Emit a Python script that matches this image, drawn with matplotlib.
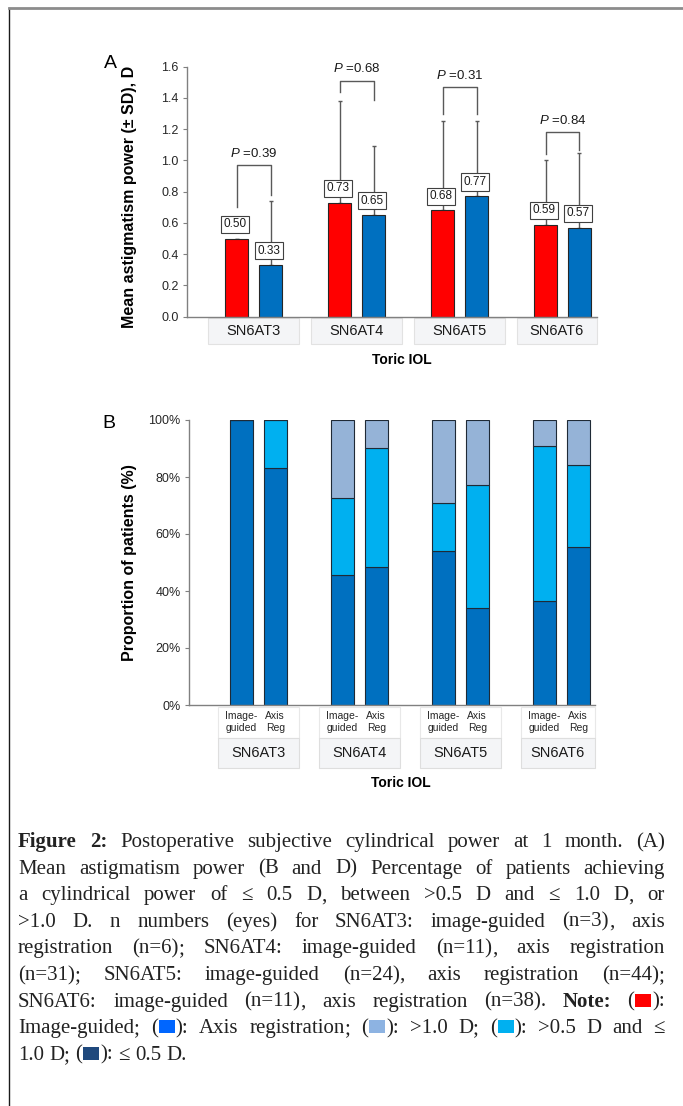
import re
import numpy as np
import matplotlib
matplotlib.use('Agg')
import matplotlib.pyplot as plt
import matplotlib.transforms as mtrans
from matplotlib.patches import Rectangle
from matplotlib.lines import Line2D

plt.rcParams['font.family'] = ['Liberation Sans', 'DejaVu Sans']
plt.rcParams['mathtext.fontset'] = 'custom'
plt.rcParams['mathtext.it'] = 'Liberation Sans:italic'
plt.rcParams['mathtext.rm'] = 'Liberation Sans'

# ---- data -------------------------------------------------------------
lenses = ['SN6AT3', 'SN6AT4', 'SN6AT5', 'SN6AT6']
groups = ['Image-\nguided', 'Axis\nReg']

# panel A: mean astigmatism power (D) and upper SD
mean_ig = [0.50, 0.73, 0.68, 0.59]
mean_ar = [0.33, 0.65, 0.77, 0.57]
sd_ig = [0.0, 0.65, 0.57, 0.41]
sd_ar = [0.41, 0.44, 0.48, 0.48]
p_values = ['0.39', '0.68', '0.31', '0.84']
# significance brackets: left leg bottom, right leg bottom, top
brk_left = [0.70, 1.44, 1.30, 1.04]
brk_right = [0.78, 1.39, 1.30, 1.07]
brk_top = [0.97, 1.51, 1.47, 1.18]

# panel B: proportion of patients (%)
le05_ig = [100.0, 45.5, 54.2, 36.4]
mid_ig = [0.0, 27.3, 16.7, 54.5]
gt10_ig = [0.0, 27.3, 29.1, 9.1]
le05_ar = [83.3, 48.4, 34.1, 55.3]
mid_ar = [16.7, 41.9, 43.2, 28.9]
gt10_ar = [0.0, 9.7, 22.7, 15.8]

caption = [
    "*Figure 2:* Postoperative subjective cylindrical power at 1 month. (A)",
    "Mean astigmatism power (B and D) Percentage of patients achieving",
    "a cylindrical power of \u2264 0.5 D, between >0.5 D and \u2264 1.0 D, or",
    ">1.0 D. n numbers (eyes) for SN6AT3: image-guided (n=3), axis",
    "registration (n=6); SN6AT4: image-guided (n=11), axis registration",
    "(n=31); SN6AT5: image-guided (n=24), axis registration (n=44);",
    "SN6AT6: image-guided (n=11), axis registration (n=38). *Note:* ({red}):",
    "Image-guided; ({blue}): Axis registration; ({light}): >1.0 D; ({mid}): >0.5 D and \u2264",
    "1.0 D; ({navy}): \u2264 0.5 D.",
]
swatch = {'red': '#FF0000', 'blue': '#0066FF', 'light': '#8DB3E2',
          'mid': '#00B0F0', 'navy': '#1F497D'}

W, H = 683, 1106
fig = plt.figure(figsize=(W / 100, H / 100), dpi=100)
fig.patch.set_facecolor('white')


def px_axes(l, t, r, b):
    return fig.add_axes([l / W, 1 - b / H, (r - l) / W, (b - t) / H])


def style_axes(ax):
    for s in ['top', 'right']:
        ax.spines[s].set_visible(False)
    for s in ['left', 'bottom']:
        ax.spines[s].set_color('#808080')
        ax.spines[s].set_linewidth(1)
    ax.tick_params(axis='y', length=3, color='#808080', labelsize=9,
                   labelcolor='#262626', pad=3)
    ax.tick_params(axis='x', length=0, labelbottom=False)


x = np.arange(len(lenses))

# ---- panel A ------------------------------------------------------------
axA = px_axes(187, 66.7, 597, 316.7)
style_axes(axA)
wA, offA = 0.223, 0.165
axA.set_xlim(-0.646, 3.335)
axA.set_ylim(0, 1.6)
axA.set_yticks(np.arange(0, 1.61, 0.2))
axA.set_yticklabels([f'{v:.1f}' for v in np.arange(0, 1.61, 0.2)])

axA.bar(x - offA, mean_ig, wA, color='#FF0000', edgecolor='#262626', lw=0.8, zorder=2)
axA.bar(x + offA, mean_ar, wA, color='#0070C0', edgecolor='#262626', lw=0.8, zorder=2)
axA.errorbar(x - offA, mean_ig, yerr=[np.zeros(4), sd_ig], fmt='none',
             ecolor='#595959', elinewidth=1, capsize=1.5, zorder=1)
axA.errorbar(x + offA, mean_ar, yerr=[np.zeros(4), sd_ar], fmt='none',
             ecolor='#595959', elinewidth=1, capsize=1.5, zorder=1)

for xs, vals in [(x - offA, mean_ig), (x + offA, mean_ar)]:
    for xi, v in zip(xs, vals):
        axA.annotate(f'{v:.2f}', (xi, v), xytext=(-1, 6), textcoords='offset points',
                     ha='center', va='bottom', fontsize=8.5, color='#1a1a1a', zorder=5,
                     bbox=dict(boxstyle='square,pad=0.22', fc='white', ec='#404040', lw=0.8))

for i in range(len(lenses)):
    xl, xr = i - offA, i + offA
    axA.plot([xl, xl, xr, xr], [brk_left[i], brk_top[i], brk_top[i], brk_right[i]],
             color='#595959', lw=1, zorder=1)
    axA.text(i, brk_top[i] + 0.035, r'$\mathit{P}$ =' + p_values[i], ha='center',
             va='bottom', fontsize=9.5, color='#1a1a1a')

transA = mtrans.blended_transform_factory(axA.transData, axA.transAxes)
xmaxA = axA.get_xlim()[1]
for i, name in enumerate(lenses):
    left = i - 0.445
    right = min(i + 0.445, xmaxA)
    axA.add_patch(Rectangle((left, -0.109), right - left, 0.104, transform=transA,
                            clip_on=False, fc='#f4f5f7', ec='#e2e2e2', lw=0.8))
    axA.text((left + right) / 2, -0.057, name, transform=transA, ha='center',
             va='center', fontsize=10.5, color='#1a1a1a')
axA.text(0.524, -0.173, 'Toric IOL', transform=axA.transAxes, ha='center',
         va='center', fontsize=10, fontweight='bold')
axA.set_ylabel('Mean astigmatism power (\u00b1 SD), D', fontsize=11.5, fontweight='bold')
axA.yaxis.set_label_coords(-0.122, 0.48)

# ---- panel B ------------------------------------------------------------
axB = px_axes(189, 420, 595, 705)
style_axes(axB)
wB, offB = 0.228, 0.168
axB.set_xlim(-0.686, 3.334)
axB.set_ylim(0, 100)
axB.set_yticks(range(0, 101, 20))
axB.set_yticklabels([f'{v}%' for v in range(0, 101, 20)])

for xs, lo, mid, hi in [(x - offB, le05_ig, mid_ig, gt10_ig),
                        (x + offB, le05_ar, mid_ar, gt10_ar)]:
    lo, mid, hi = np.array(lo), np.array(mid), np.array(hi)
    kw = dict(width=wB, edgecolor='#1f2a36', lw=0.8, zorder=2)
    axB.bar(xs, lo, color='#0070C0', **kw)
    axB.bar(xs, mid, bottom=lo, color='#00B0F0', **kw)
    axB.bar(xs, hi, bottom=lo + mid, color='#95B3D7', **kw)

transB = mtrans.blended_transform_factory(axB.transData, axB.transAxes)
xmaxB = axB.get_xlim()[1]
for i, name in enumerate(lenses):
    left = i - 0.40
    right = min(i + 0.40, xmaxB)
    axB.add_patch(Rectangle((left, -0.116), right - left, 0.109, transform=transB,
                            clip_on=False, fc='white', ec='#e8e8e8', lw=0.8))
    axB.add_patch(Rectangle((left, -0.221), right - left, 0.105, transform=transB,
                            clip_on=False, fc='#f4f5f7', ec='#dedede', lw=0.8))
    axB.text((left + right) / 2, -0.168, name, transform=transB, ha='center',
             va='center', fontsize=10.5, color='#1a1a1a')
    for xs, g in zip([i - offB, i + offB], groups):
        axB.text(xs, -0.06, g, transform=transB, ha='center', va='center',
                 fontsize=7.5, color='#262626', linespacing=1.2)
axB.text(0.522, -0.274, 'Toric IOL', transform=axB.transAxes, ha='center',
         va='center', fontsize=10, fontweight='bold')
axB.set_ylabel('Proportion of patients (%)', fontsize=11.5, fontweight='bold')
axB.yaxis.set_label_coords(-0.128, 0.5)

# panel letters
fig.text(110 / W, 1 - 63 / H, 'A', fontsize=14, ha='center', va='center')
fig.text(109 / W, 1 - 424 / H, 'B', fontsize=14, ha='center', va='center')

# frame lines
fig.add_artist(Line2D([9 / W, 9 / W], [0, 1 - 8 / H], transform=fig.transFigure,
                      color='#1a1a1a', lw=1))
fig.add_artist(Line2D([9 / W, 1], [1 - 8 / H, 1 - 8 / H], transform=fig.transFigure,
                      color='#8c8c8c', lw=2))

# ---- caption (justified) ------------------------------------------------
cap_left, cap_right = 18, 665
cap_base0, cap_step = 847, 26.6
cap_size = 15
cap_font = 'Liberation Serif'
cap_color = '#222222'
box_w, box_h = 16, 13

fig.canvas.draw()
rend = fig.canvas.get_renderer()


def text_w(s, bold):
    t = fig.text(0, 0, s, fontsize=cap_size, family=cap_font,
                 weight='bold' if bold else 'normal')
    wpx = t.get_window_extent(renderer=rend).width
    t.remove()
    return wpx


def parse_line(line, bold):
    words = []
    for raw in line.split():
        if raw.startswith('*'):
            bold = True
            raw = raw[1:]
        end_b = raw.endswith('*')
        if end_b:
            raw = raw[:-1]
        pieces = []
        # boxes and trailing , ; as separate pieces (keeps baselines steady)
        for part in re.split(r'(\{\w+\}|[,;]$)', raw):
            if not part:
                continue
            if part.startswith('{'):
                pieces.append(['box', part[1:-1], box_w + 2])
            else:
                wpart = text_w(part, bold)
                if part in ',;' and pieces and pieces[-1][0] == 'txt':
                    prev = pieces[-1]
                    prev[-1] = text_w(prev[1] + part, bold) - wpart
                pieces.append(['txt', part, bold, wpart])
        words.append(pieces)
        if end_b:
            bold = False
    return words, bold


space_w = text_w('a a', False) - text_w('aa', False)
bold = False
for li, line in enumerate(caption):
    words, bold = parse_line(line, bold)
    widths = [sum(p[-1] for p in wd) for wd in words]
    if li < len(caption) - 1 and len(words) > 1:
        gap = (cap_right - cap_left - sum(widths)) / (len(words) - 1)
    else:
        gap = space_w
    base = cap_base0 + li * cap_step
    xc = cap_left
    for wd, wdw in zip(words, widths):
        xp = xc
        for p in wd:
            if p[0] == 'box':
                fig.add_artist(Rectangle(((xp + 1) / W, 1 - base / H), box_w / W, box_h / H,
                                         transform=fig.transFigure, fc=swatch[p[1]], lw=0))
            else:
                fig.text(xp / W, 1 - base / H, p[1], fontsize=cap_size, family=cap_font,
                         weight='bold' if p[2] else 'normal', color=cap_color,
                         ha='left', va='baseline')
            xp += p[-1]
        xc += wdw + gap

fig.savefig('out.png', dpi=100)
